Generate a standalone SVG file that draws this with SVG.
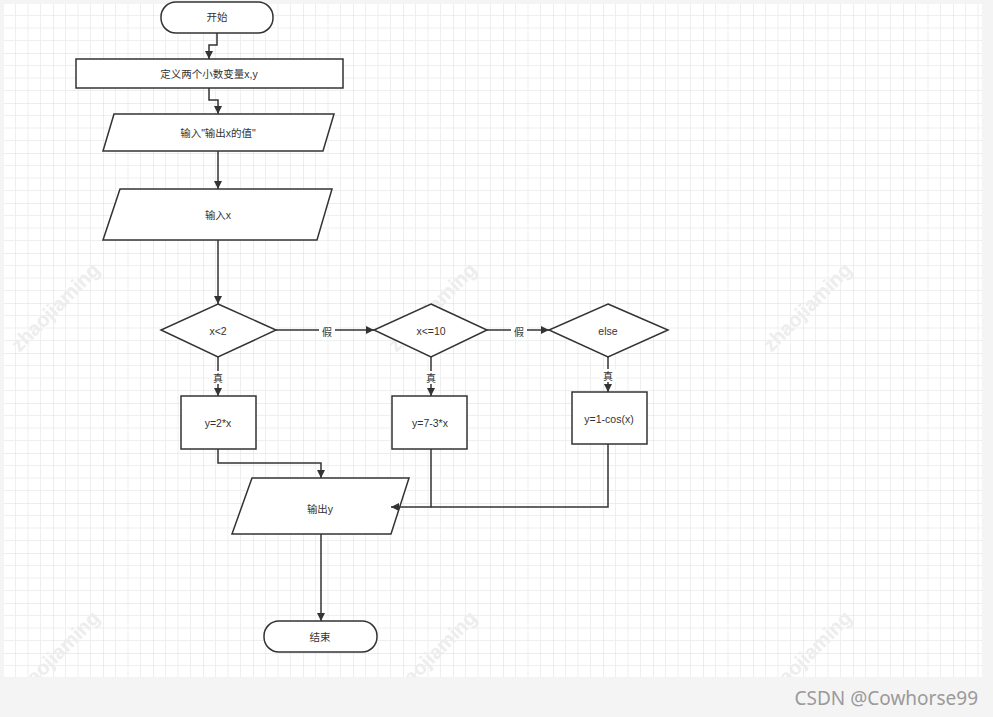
<svg xmlns="http://www.w3.org/2000/svg" width="993" height="717" viewBox="0 0 993 717">
<style>
.shape{fill:#fff;stroke:#333;stroke-width:1.5}
.lbl{font-family:"Liberation Sans","Noto Sans CJK SC",sans-serif;font-size:10.5px;fill:#333;text-anchor:middle;dominant-baseline:central}
.edge{fill:none;stroke:#333;stroke-width:1.5}
.elbl{font-family:"Noto Sans CJK SC",sans-serif;font-size:10px;fill:#333;text-anchor:middle;dominant-baseline:central}
.wm{font-family:"Liberation Sans",sans-serif;font-size:20px;font-weight:bold;fill:#ededed;text-anchor:middle}
</style>
<defs>
<pattern id="grid" patternUnits="userSpaceOnUse" x="3" y="3" width="50" height="50">
<path d="M12.5 0V50M25 0V50M37.5 0V50M0 12.5H50M0 25H50M0 37.5H50" stroke="#efefef" stroke-width="1" fill="none"/>
<path d="M0 0V50M0 0H50" stroke="#dcdcdc" stroke-width="1" fill="none"/>
</pattern>
<clipPath id="area"><rect x="4" y="4" width="978" height="673"/></clipPath>
<marker id="arr" viewBox="0 0 10 10" refX="10" refY="5" markerWidth="8" markerHeight="8" markerUnits="userSpaceOnUse" orient="auto">
<path d="M0 0L10 5L0 10Z" fill="#333"/>
</marker>
</defs>
<rect x="0" y="0" width="993" height="717" fill="#f4f4f4"/>
<rect x="4" y="4" width="978" height="673" fill="#fff"/>
<rect x="4" y="4" width="978" height="673" fill="url(#grid)"/>
<g id="watermarks" clip-path="url(#area)">
<text class="wm" transform="translate(60,312) rotate(-45)">zhaojiaming</text>
<text class="wm" transform="translate(437,312) rotate(-45)">zhaojiaming</text>
<text class="wm" transform="translate(812,312) rotate(-45)">zhaojiaming</text>
<text class="wm" transform="translate(60,660) rotate(-45)">zhaojiaming</text>
<text class="wm" transform="translate(437,660) rotate(-45)">zhaojiaming</text>
<text class="wm" transform="translate(812,660) rotate(-45)">zhaojiaming</text>
</g>
<g id="start">
<rect class="shape" x="161" y="2" width="112" height="31" rx="15"/>
<text class="lbl" x="217" y="17">开始</text>
</g>
<g id="define">
<rect class="shape" x="76" y="59" width="267" height="29"/>
<text class="lbl" x="209" y="74">定义两个小数变量x,y</text>
</g>
<g id="prompt">
<polygon class="shape" points="114,114 334,114 323,151 103,151"/>
<text class="lbl" x="218" y="133">输入"输出x的值"</text>
</g>
<g id="inputx">
<polygon class="shape" points="120,189 332,189 317,240 103,240"/>
<text class="lbl" x="218" y="215">输入x</text>
</g>
<g id="cond1">
<polygon class="shape" points="218,304 276,330 218,357 161,330"/>
<text class="lbl" x="218" y="331">x&lt;2</text>
</g>
<g id="cond2">
<polygon class="shape" points="431,304 487,330 431,357 374,330"/>
<text class="lbl" x="431" y="331">x&lt;=10</text>
</g>
<g id="cond3">
<polygon class="shape" points="608,304 668,330 608,357 549,330"/>
<text class="lbl" x="608" y="331">else</text>
</g>
<g id="calc1">
<rect class="shape" x="181" y="396" width="75" height="53"/>
<text class="lbl" x="218" y="423">y=2*x</text>
</g>
<g id="calc2">
<rect class="shape" x="392" y="396" width="75" height="53"/>
<text class="lbl" x="430" y="423">y=7-3*x</text>
</g>
<g id="calc3">
<rect class="shape" x="572" y="392" width="75" height="52"/>
<text class="lbl" x="609" y="419">y=1-cos(x)</text>
</g>
<g id="output">
<polygon class="shape" points="252,478 409,478 391,534 232,534"/>
<text class="lbl" x="320" y="509">输出y</text>
</g>
<g id="end">
<rect class="shape" x="264" y="621" width="113" height="31" rx="15"/>
<text class="lbl" x="320" y="637">结束</text>
</g>
<g id="connectors">
<path class="edge" d="M217 33V45H209V59" marker-end="url(#arr)"/>
<path class="edge" d="M209 88V100H218V114" marker-end="url(#arr)"/>
<path class="edge" d="M218 151V189" marker-end="url(#arr)"/>
<path class="edge" d="M218 240V304" marker-end="url(#arr)"/>
<path class="edge" d="M276 330H374" marker-end="url(#arr)"/>
<path class="edge" d="M487 330H549" marker-end="url(#arr)"/>
<path class="edge" d="M218 357V396" marker-end="url(#arr)"/>
<path class="edge" d="M431 357V396" marker-end="url(#arr)"/>
<path class="edge" d="M608 357V392" marker-end="url(#arr)"/>
<path class="edge" d="M218 449V463H321V478" marker-end="url(#arr)"/>
<path class="edge" d="M431 449V507H391" marker-end="url(#arr)"/>
<path class="edge" d="M608 444V507H431"/>
<path class="edge" d="M321 534V621" marker-end="url(#arr)"/>
<rect x="319" y="324" width="16" height="13" fill="#fff"/>
<text class="elbl" x="327" y="331">假</text>
<rect x="511" y="324" width="16" height="13" fill="#fff"/>
<text class="elbl" x="519" y="331">假</text>
<rect x="210" y="371" width="16" height="13" fill="#fff"/>
<text class="elbl" x="218" y="377">真</text>
<rect x="423" y="371" width="16" height="13" fill="#fff"/>
<text class="elbl" x="431" y="377">真</text>
<rect x="600" y="369" width="16" height="13" fill="#fff"/>
<text class="elbl" x="608" y="375">真</text>
</g>
<text x="978" y="705" font-family="'Noto Sans',sans-serif" font-size="19" fill="#9a9a9a" text-anchor="end">CSDN @Cowhorse99</text>
</svg>
